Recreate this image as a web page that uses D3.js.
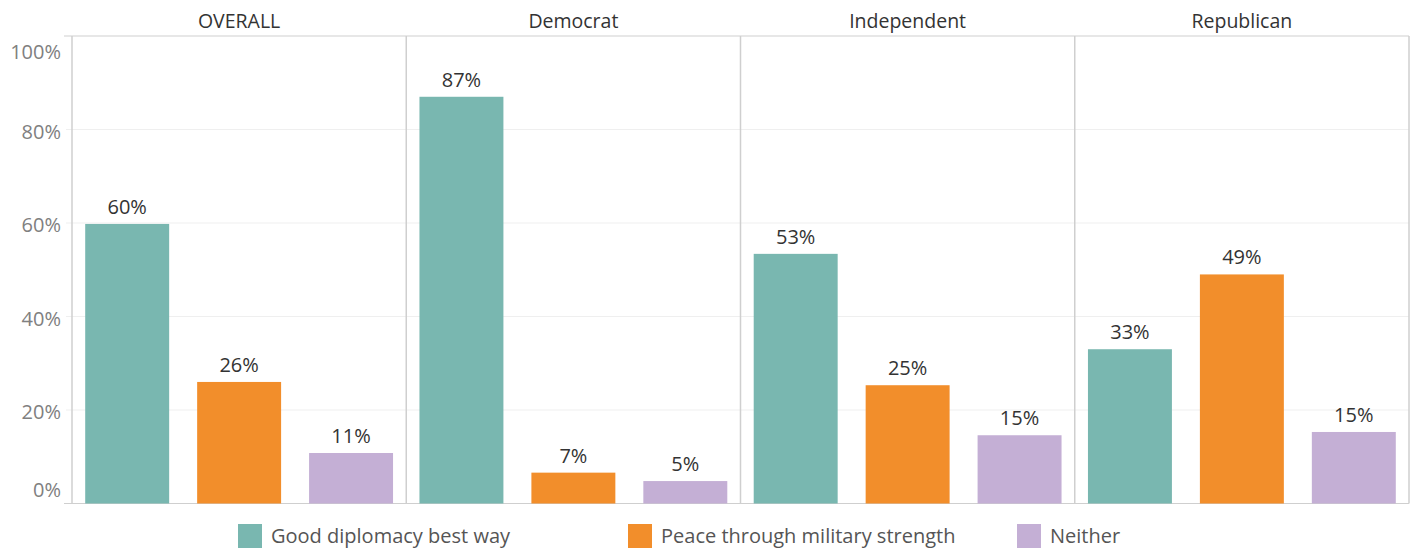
<!DOCTYPE html>
<html><head><meta charset="utf-8">
<script src="https://cdn.jsdelivr.net/npm/d3@7"></script>
<style>
body{margin:0;background:#fff;}
svg{display:block;font-family:"Open Sans","Noto Sans",sans-serif;}
</style></head>
<body><svg id="c" width="1413" height="548"></svg>
<script>
const panels = ["OVERALL","Democrat","Independent","Republican"];
const seriesNames = ["Good diplomacy best way","Peace through military strength","Neither"];
const seriesColors = ["#79b7b0","#f28e2b","#c4afd5"];
const goodDiplomacy = [59.8, 87, 53.4, 33];
const peaceStrength = [26, 6.6, 25.3, 49];
const neither = [10.8, 4.8, 14.6, 15.3];
const yTicks = [0,20,40,60,80,100];

(function(){
const svg = d3.select("#c");
const pL = 72, pR = 1409, pT = 36, pB = 503.5;
const fx = d3.scaleBand().domain(panels).range([pL,pR]).padding(0);
const y = d3.scaleLinear().domain([0,100]).range([pB, pT]);
const xb = d3.scaleBand().domain(seriesNames).range([0, fx.bandwidth()]).paddingInner(0.25).paddingOuter(0.118);
const color = d3.scaleOrdinal().domain(seriesNames).range(seriesColors);
const series = [goodDiplomacy, peaceStrength, neither];

// gridlines
svg.append("g").selectAll("line").data(yTicks.filter(t=>t>0&&t<100)).join("line")
  .attr("x1", pL-6).attr("x2", pR).attr("y1", d=>y(d)).attr("y2", d=>y(d))
  .attr("stroke","#efefef").attr("stroke-width",1);

// y axis labels
svg.append("g").selectAll("text").data(yTicks).join("text")
  .attr("x", 61).attr("y", d=> d===100 ? y(d)+23 : d===0 ? y(d)-7 : y(d)+9)
  .attr("text-anchor","end")
  .attr("fill","#808080").attr("font-size",20).text(d=>d+"%");

// borders
const bc = "#cfcfcf";
svg.append("line").attr("x1",pL-8).attr("x2",pR).attr("y1",pT).attr("y2",pT).attr("stroke",bc);
svg.append("line").attr("x1",pL-8).attr("x2",pR).attr("y1",pB).attr("y2",pB).attr("stroke",bc);
svg.append("g").selectAll("line").data(panels.concat(["end"])).join("line")
  .attr("x1",(d,i)=> i<panels.length ? fx(d) : pR).attr("x2",(d,i)=> i<panels.length ? fx(d) : pR)
  .attr("y1",pT).attr("y2",pB).attr("stroke",bc).attr("stroke-width",1.5);

// headers
svg.append("g").selectAll("text").data(panels).join("text")
  .attr("x", d=>fx(d)+fx.bandwidth()/2).attr("y", 28)
  .attr("text-anchor","middle").attr("fill","#333").attr("font-size",19.5)
  .text(d=>d);

// bars
const fmt = d3.format(".0f");
panels.forEach((p,pi)=>{
  const g = svg.append("g").attr("transform",`translate(${fx(p)},0)`);
  const rows = seriesNames.map((s,si)=>({s, v: series[si][pi]}));
  g.selectAll("rect").data(rows).join("rect")
    .attr("x", d=>xb(d.s)).attr("width", xb.bandwidth())
    .attr("y", d=>y(d.v)).attr("height", d=>y(0)-y(d.v))
    .attr("fill", d=>color(d.s));
  g.selectAll("text").data(rows).join("text")
    .attr("x", d=>xb(d.s)+xb.bandwidth()/2).attr("y", d=>y(d.v)-10)
    .attr("text-anchor","middle").attr("fill","#333").attr("font-size",20)
    .text(d=>fmt(d.v)+"%");
});

// legend
const legX = [238, 628, 1017];
const lg = svg.append("g").selectAll("g").data(seriesNames).join("g")
  .attr("transform",(d,i)=>`translate(${legX[i]},524)`);
lg.append("rect").attr("width",24).attr("height",24).attr("fill",d=>color(d));
lg.append("text").attr("x",33).attr("y",18.5)
  .attr("fill","#555").attr("font-size",20).text(d=>d);
})();
</script></body></html>
